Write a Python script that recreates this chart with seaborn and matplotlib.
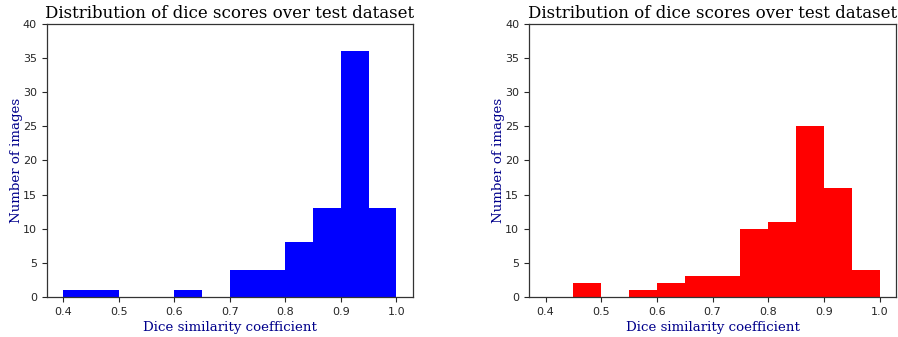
import numpy as np
import pandas as pd
import seaborn as sns
import matplotlib
matplotlib.use("Agg")
import matplotlib.pyplot as plt

bin_edges = [0.40, 0.45, 0.50, 0.55, 0.60, 0.65, 0.70, 0.75, 0.80, 0.85, 0.90, 0.95, 1.00]
counts_left = [1, 1, 0, 0, 1, 0, 4, 4, 8, 13, 36, 13]
counts_right = [0, 2, 0, 1, 2, 3, 3, 10, 11, 25, 16, 4]
title = "Distribution of dice scores over test dataset"
xlabel = "Dice similarity coefficient"
ylabel = "Number of images"

sns.set_style("ticks")
plt.rcParams['font.family'] = ['DejaVu Sans']

fig = plt.figure(figsize=(8.98, 3.37), dpi=100)
ax1 = fig.add_axes([0.052, 0.119, 0.408, 0.810])
ax2 = fig.add_axes([0.589, 0.119, 0.409, 0.810])

centers = [(bin_edges[i] + bin_edges[i + 1]) / 2 for i in range(len(bin_edges) - 1)]
font_t = dict(family='DejaVu Serif', size=12, color='black')
font_l = dict(family='DejaVu Serif', size=9.6, color='darkblue')

for ax, counts, col in [(ax1, counts_left, 'blue'), (ax2, counts_right, 'red')]:
    df = pd.DataFrame({'x': centers, 'w': counts})
    sns.histplot(data=df, x='x', weights='w', bins=bin_edges, ax=ax,
                 color=col, alpha=1.0, edgecolor=col, linewidth=0)
    ax.set_xlim(0.37, 1.03)
    ax.set_ylim(0, 40)
    ax.set_yticks(range(0, 41, 5))
    ax.set_xticks([0.4, 0.5, 0.6, 0.7, 0.8, 0.9, 1.0])
    ax.tick_params(labelsize=8, length=3.5)
    ax.set_title(title, fontdict=font_t, pad=4)
    ax.set_xlabel(xlabel, fontdict=font_l, labelpad=3)
    ax.set_ylabel(ylabel, fontdict=font_l, labelpad=0)
    for s in ax.spines.values():
        s.set_visible(True)
        s.set_color('#333333')
        s.set_linewidth(0.9)

fig.savefig("out.png", dpi=100)
